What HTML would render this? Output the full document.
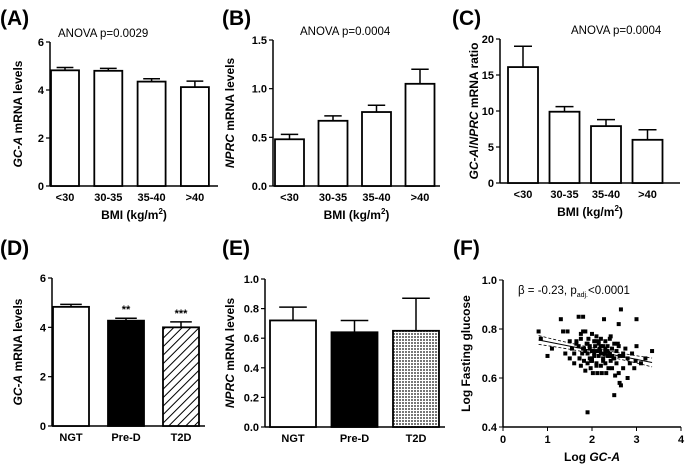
<!DOCTYPE html>
<html><head><meta charset="utf-8"><style>
body{margin:0;background:#fff}
svg{display:block;font-family:"Liberation Sans",Arial,sans-serif}
.tk{font-size:11px;font-weight:bold}
.at{font-size:12px;font-weight:bold}
.pl{font-size:21px;font-weight:bold}
.an{font-size:11.5px}
</style></head><body>
<svg id="c" width="685" height="465" viewBox="0 0 685 465">
<defs>
<pattern id="hatch" patternUnits="userSpaceOnUse" width="6" height="6" patternTransform="rotate(45)"><rect width="6" height="6" fill="#fff"/><line x1="0" y1="0" x2="0" y2="6" stroke="#000" stroke-width="2"/></pattern>
<pattern id="grid" patternUnits="userSpaceOnUse" width="3" height="3"><rect width="3" height="3" fill="#fff"/><rect width="2" height="2" fill="#777"/></pattern>
</defs>
<g id="root"></g>
</svg>
<script>
const bmiCats=["<30","30-35","35-40",">40"];
const aVals=[4.82,4.8,4.35,4.12];
const aErr=[0.12,0.1,0.12,0.25];
const aTicks=[0,2,4,6];
const bVals=[0.48,0.67,0.76,1.05];
const bErr=[0.05,0.05,0.07,0.15];
const bTicks=["0.0","0.5","1.0","1.5"];
const cVals=[16.1,9.9,7.9,6.0];
const cErr=[2.9,0.7,0.9,1.4];
const cTicks=[0,5,10,15,20];
const gCats=["NGT","Pre-D","T2D"];
const dVals=[4.83,4.27,4.0];
const dErr=[0.1,0.1,0.22];
const dTicks=[0,2,4,6];
const dStars=["","**","***"];
const eVals=[0.72,0.64,0.65];
const eErr=[0.09,0.08,0.22];
const eTicks=["0.0","0.2","0.4","0.6","0.8","1.0"];
const fX=[0.8,0.85,1.0,1.1,1.3,1.35,1.4,1.45,1.5,1.5,1.55,1.6,1.6,1.65,1.7,1.7,1.72,1.75,1.75,1.78,1.8,1.8,1.82,1.85,1.85,1.88,1.9,1.9,1.92,1.95,1.95,1.97,2.0,2.0,2.0,2.02,2.05,2.05,2.07,2.1,2.1,2.1,2.12,2.15,2.15,2.17,2.2,2.2,2.2,2.22,2.25,2.25,2.27,2.3,2.3,2.3,2.32,2.35,2.35,2.37,2.4,2.4,2.42,2.45,2.45,2.5,2.5,2.52,2.55,2.55,2.6,2.6,2.62,2.65,2.7,2.7,2.75,2.8,2.8,2.85,2.9,2.95,3.0,3.0,3.1,3.2,3.35,1.9,2.5,2.62,2.65,1.75,1.85,1.95,2.05,2.15,2.25,2.35,2.45,1.8,2.0,2.2,2.4,2.1,2.3,1.9,2.6,2.7,2.98,1.65,1.82,2.08,2.28,2.48,2.18,2.38,1.98,2.58,2.02,2.22,2.42,1.72];
const fY=[0.79,0.76,0.69,0.72,0.84,0.79,0.7,0.79,0.75,0.68,0.72,0.7,0.66,0.74,0.85,0.73,0.68,0.78,0.65,0.7,0.85,0.72,0.67,0.79,0.63,0.74,0.7,0.66,0.76,0.68,0.72,0.64,0.78,0.71,0.67,0.62,0.75,0.69,0.73,0.77,0.71,0.66,0.62,0.74,0.69,0.72,0.76,0.7,0.65,0.62,0.73,0.68,0.84,0.75,0.71,0.66,0.62,0.73,0.69,0.64,0.76,0.7,0.67,0.72,0.64,0.74,0.68,0.61,0.71,0.66,0.73,0.62,0.69,0.88,0.7,0.64,0.72,0.68,0.6,0.66,0.7,0.64,0.84,0.73,0.66,0.68,0.71,0.46,0.53,0.58,0.57,0.76,0.71,0.73,0.7,0.75,0.67,0.71,0.69,0.79,0.68,0.73,0.7,0.65,0.72,0.74,0.82,0.69,0.67,0.75,0.72,0.75,0.7,0.68,0.71,0.69,0.67,0.74,0.71,0.7,0.77,0.68,0.72,0.73];
const fXTicks=[0,1,2,3,4];
const fYTicks=["0.4","0.6","0.8","1.0"];
const fitB=0.784, fitM=-0.036;

const NS="http://www.w3.org/2000/svg";
const root=document.getElementById('root');
function mk(tag,attrs,parent,name){const e=document.createElementNS(NS,tag);for(const k in attrs)e.setAttribute(k,attrs[k]);


(parent||root).appendChild(e);return e;}
function txt(x,y,s,cls,anchor,parent,name,rot){const t=mk('text',{x:x,y:y,class:cls,'text-anchor':anchor||'middle'},parent,name);if(rot)t.setAttribute('transform','rotate(-90 '+x+' '+y+')');t.innerHTML=s;return t;}

function barPanel(o){
  const g=mk('g',{},root,o.name);
  const ymax=parseFloat(o.ticks[o.ticks.length-1]);
  const ys=v=>o.y0-(v/ymax)*(o.y0-o.y1);
  mk('line',{x1:o.ax,y1:o.y1,x2:o.ax,y2:o.y0,stroke:'#000','stroke-width':1.5},g,'y-axis');
  mk('line',{x1:o.ax,y1:o.y0,x2:o.xend,y2:o.y0,stroke:'#000','stroke-width':1.5},g,'x-axis');
  o.ticks.forEach(t=>{const y=ys(parseFloat(t));mk('line',{x1:o.ax-4,y1:y,x2:o.ax,y2:y,stroke:'#000','stroke-width':1.2},g,'y-tick');txt(o.ax-6,y+4,t,'tk','end',g,'y-tick-label');});
  o.cats.forEach((c,i)=>{
    const x=o.bx+i*o.step, v=o.vals[i], e=o.err[i], top=ys(v), et=ys(v+e), cx=x+o.bw/2;
    mk('line',{x1:cx,y1:top,x2:cx,y2:et,stroke:'#000','stroke-width':1.5},g,'error-bar');
    mk('line',{x1:cx-o.bw*0.3,y1:et,x2:cx+o.bw*0.3,y2:et,stroke:'#000','stroke-width':1.5},g,'error-cap');
    mk('rect',{x:x,y:top,width:o.bw,height:o.y0-top,fill:o.fills?o.fills[i]:'#fff',stroke:'#000','stroke-width':1.8},g,'bar-'+c);
    txt(cx,o.y0+15,c.replace('<','&lt;').replace('>','&gt;'),'tk','middle',g,'x-tick-label');
    if(o.stars&&o.stars[i])txt(cx,et-5,o.stars[i],'tk','middle',g,'significance-stars');
  });
  txt(o.ylx,(o.y0+o.y1)/2,o.ylabel,'at','middle',g,'y-axis-title',true);
  if(o.xlabel)txt((o.ax+o.xend)/2,o.y0+33,o.xlabel,'at','middle',g,'x-axis-title');
  if(o.anova)txt(o.anx,o.y1-5,o.anova,'an','start',g,'anova-text');
  txt(o.lx,o.ly,o.letter,'pl','start',g,'panel-label');
}
const xl='BMI (kg/m<tspan font-size="8" dy="-5">2</tspan><tspan dy="5">)</tspan>';
barPanel({name:'panel-a',ax:50,y0:186,y1:42,xend:218,bx:51,bw:28,step:43.3,cats:bmiCats,vals:aVals,err:aErr,ticks:aTicks,ylabel:'<tspan font-style="italic">GC-A</tspan> mRNA levels',ylx:22,xlabel:xl,anova:'ANOVA p=0.0029',anx:58,letter:'(A)',lx:0,ly:25});
barPanel({name:'panel-b',ax:273,y0:186,y1:40,xend:440,bx:275,bw:29,step:43.5,cats:bmiCats,vals:bVals,err:bErr,ticks:bTicks,ylabel:'<tspan font-style="italic">NPRC</tspan> mRNA levels',ylx:234,xlabel:xl,anova:'ANOVA p=0.0004',anx:300,letter:'(B)',lx:222,ly:25});
barPanel({name:'panel-c',ax:500,y0:183,y1:39,xend:680,bx:508,bw:30,step:41.5,cats:bmiCats,vals:cVals,err:cErr,ticks:cTicks,ylabel:'<tspan font-style="italic">GC-A</tspan>/<tspan font-style="italic">NPRC</tspan> mRNA ratio',ylx:478,xlabel:xl,anova:'ANOVA p=0.0004',anx:571,letter:'(C)',lx:452,ly:25});
barPanel({name:'panel-d',ax:52,y0:426,y1:278,xend:205,bx:53,bw:36,step:55,cats:gCats,vals:dVals,err:dErr,ticks:dTicks,fills:['#fff','#000','url(#hatch)'],stars:dStars,ylabel:'<tspan font-style="italic">GC-A</tspan> mRNA levels',ylx:22,letter:'(D)',lx:0,ly:255});
barPanel({name:'panel-e',ax:265,y0:427,y1:279,xend:445,bx:270,bw:46,step:61.5,cats:gCats,vals:eVals,err:eErr,ticks:eTicks,fills:['#fff','#000','url(#grid)'],ylabel:'<tspan font-style="italic">NPRC</tspan> mRNA levels',ylx:234,letter:'(E)',lx:222,ly:255});

(function(){
  const g=mk('g',{},root,'panel-f');
  const ax=503,x4=681,y0=427,y1=280;
  const xs=v=>ax+v/4*(x4-ax), ys=v=>y0-(v-0.4)/0.6*(y0-y1);
  mk('line',{x1:ax,y1:y1,x2:ax,y2:y0,stroke:'#000','stroke-width':1.5},g,'y-axis');
  mk('line',{x1:ax,y1:y0,x2:x4,y2:y0,stroke:'#000','stroke-width':1.5},g,'x-axis');
  fXTicks.forEach(t=>{mk('line',{x1:xs(t),y1:y0,x2:xs(t),y2:y0+4,stroke:'#000'},g,'x-tick');txt(xs(t),y0+16,t,'tk','middle',g,'x-tick-label');});
  fYTicks.forEach(t=>{const y=ys(parseFloat(t));mk('line',{x1:ax-4,y1:y,x2:ax,y2:y,stroke:'#000'},g,'y-tick');txt(ax-6,y+4,t,'tk','end',g,'y-tick-label');});
  fX.forEach((x,i)=>mk('rect',{x:xs(x)-2,y:ys(fY[i])-2,width:4,height:4,fill:'#000'},g,'scatter-point'));
  const xa=0.8,xb=3.35;
  mk('line',{x1:xs(xa),y1:ys(fitB+fitM*xa),x2:xs(xb),y2:ys(fitB+fitM*xb),stroke:'#000','stroke-width':1},g,'regression-line');
  [0.012,-0.012].forEach(d=>{mk('path',{d:`M${xs(xa)},${ys(fitB+fitM*xa+d*1.5)} Q${xs(2.1)},${ys(fitB+fitM*2.1+d*0.4)} ${xs(xb)},${ys(fitB+fitM*xb+d*1.5)}`,fill:'none',stroke:'#000','stroke-width':0.8,'stroke-dasharray':'3,2'},g,'confidence-band');});
  txt(518,294,'β = -0.23, p<tspan font-size="7" dy="3">adj.</tspan><tspan dy="-3">&lt;0.0001</tspan>','an','start',g,'beta-text');
  txt(470,(y0+y1)/2,'Log Fasting glucose','at','middle',g,'y-axis-title',true);
  txt((ax+x4)/2,y0+34,'Log <tspan font-style="italic">GC-A</tspan>','at','middle',g,'x-axis-title');
  txt(453,255,'(F)','pl','start',g,'panel-label');
})();
</script>
</body></html>
